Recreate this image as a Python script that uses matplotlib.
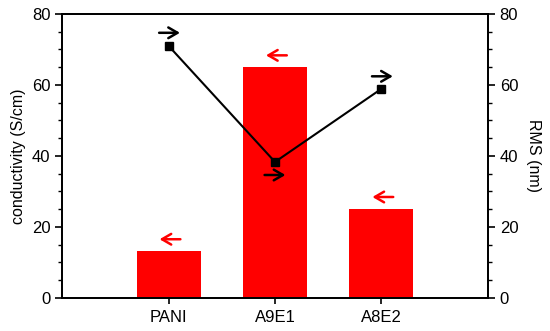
import numpy as np
import matplotlib.pyplot as plt
from matplotlib.ticker import MultipleLocator
from matplotlib.transforms import offset_copy

plt.rcParams['font.family'] = ['Liberation Sans', 'DejaVu Sans']

samples = ['PANI', 'A9E1', 'A8E2']
conductivity = [13.2, 65.0, 25.1]
rms = [71.0, 38.3, 58.9]

fig, ax = plt.subplots(figsize=(5.5, 3.31), dpi=100)
fig.subplots_adjust(left=0.113, right=0.887, top=0.958, bottom=0.10)

x = np.arange(len(samples))
ax.bar(x, conductivity, width=0.6, color='#ff0000')
ax.set_xlim(-1, 3)
ax.set_ylim(0, 80)
ax.set_xticks(x)
ax.set_xticklabels(samples, fontsize=12)
ax.yaxis.set_major_locator(MultipleLocator(20))
ax.yaxis.set_minor_locator(MultipleLocator(5))
ax.tick_params(axis='y', which='major', length=5, width=1.2, labelsize=12)
ax.tick_params(axis='y', which='minor', length=3, width=1.0)
ax.tick_params(axis='x', length=4, width=1.2, pad=5)
ax.set_ylabel('conductivity (S/cm)', fontsize=11.5, labelpad=4)

ax2 = ax.twinx()
ax2.plot(x, rms, color='black', lw=1.5, marker='s', ms=5.5)
ax2.set_ylim(0, 80)
ax2.yaxis.set_major_locator(MultipleLocator(20))
ax2.yaxis.set_minor_locator(MultipleLocator(5))
ax2.tick_params(axis='y', which='major', length=5, width=1.2, labelsize=12)
ax2.tick_params(axis='y', which='minor', length=3, width=1.0)
ax2.set_ylabel('RMS (nm)', fontsize=11.5, rotation=270, labelpad=16)

for a in (ax, ax2):
    for s in a.spines.values():
        s.set_linewidth(1.3)


def axis_arrow(a, xi, yi, dx, dy, direction, color):
    # small arrow next to a point, pointing to the axis the series uses
    half = 7.5
    tail = offset_copy(a.transData, fig=fig, x=dx - direction * half, y=dy, units='points')
    head = offset_copy(a.transData, fig=fig, x=dx + direction * half, y=dy, units='points')
    a.annotate('', xy=(xi, yi), xycoords=head, xytext=(xi, yi), textcoords=tail,
               arrowprops=dict(arrowstyle='->,head_length=0.55,head_width=0.32',
                               color=color, lw=1.8, shrinkA=0, shrinkB=0,
                               mutation_scale=12))


for xi, c in zip(x, conductivity):
    axis_arrow(ax, xi, c, 1.0, 8.5, -1, '#ff0000')
offsets = [(0.7, 9.4), (0, -9.4), (0.7, 9.0)]
for xi, r, (dx, dy) in zip(x, rms, offsets):
    axis_arrow(ax2, xi, r, dx, dy, 1, 'black')

fig.savefig('out.png', dpi=100)
